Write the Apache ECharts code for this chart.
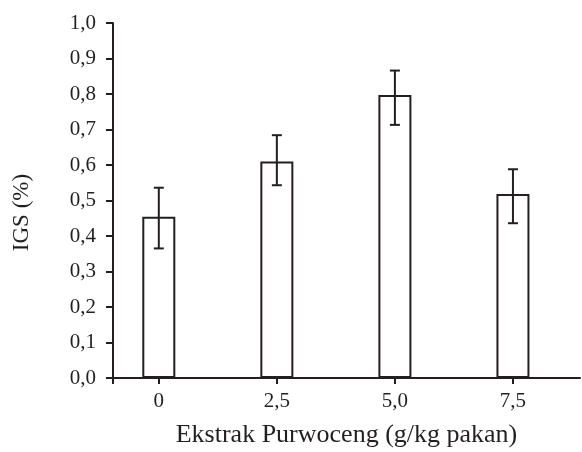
<!DOCTYPE html>
<html>
<head>
<meta charset="utf-8">
<script src="https://cdn.jsdelivr.net/npm/echarts@6/dist/echarts.min.js"></script>
<style>
  html, body { margin: 0; padding: 0; background: #fff; }
  #chart { width: 582px; height: 452px; }
</style>
</head>
<body>
<div id="chart"></div>
<script>
// dose of extract, g/kg feed
const doses = [0, 2.5, 5, 7.5];
const doseLabels = ['0', '2,5', '5,0', '7,5'];
// IGS mean and error bar ends (%)
const igsMean = [0.454, 0.610, 0.797, 0.518];
const igsLow = [0.365, 0.543, 0.713, 0.436];
const igsHigh = [0.536, 0.684, 0.866, 0.588];

const xMin = -0.97;
const xMax = 8.92;
const ink = '#231f20';
const font = 'Liberation Serif';

const chart = echarts.init(document.getElementById('chart'));

chart.setOption({
	backgroundColor: '#fff',
	animation: false,
	grid: { left: 113, right: 2, top: 23, bottom: 74, outerBoundsMode: 'none', containLabel: false },
	xAxis: {
		type: 'value',
		min: xMin,
		max: xMax,
		name: 'Ekstrak Purwoceng (g/kg pakan)',
		nameLocation: 'middle',
		nameGap: 44,
		nameTextStyle: { fontFamily: font, fontSize: 26, color: ink },
		splitLine: { show: false },
		axisLine: { onZero: false, lineStyle: { color: ink, width: 2 } },
		axisTick: {
			length: 6,
			lineStyle: { color: ink, width: 2 },
			customValues: [xMin].concat(doses)
		},
		axisLabel: {
			customValues: doses,
			margin: 13,
			fontFamily: font,
			fontSize: 21,
			color: ink,
			formatter: (v) => doseLabels[doses.indexOf(v)]
		}
	},
	yAxis: {
		type: 'value',
		min: 0,
		max: 1,
		interval: 0.1,
		name: 'IGS (%)',
		nameLocation: 'middle',
		nameGap: 80,
		nameTextStyle: { fontFamily: font, fontSize: 23, color: ink, padding: [0, 24, 0, 0] },
		splitLine: { show: false },
		axisLine: { show: true, onZero: false, lineStyle: { color: ink, width: 2 } },
		axisTick: { show: true, length: 7, lineStyle: { color: ink, width: 2 } },
		axisLabel: {
			margin: 17,
			fontFamily: font,
			fontSize: 21,
			color: ink,
			formatter: (v) => v.toFixed(1).replace('.', ',')
		}
	},
	series: [
		{
			type: 'bar',
			barWidth: 33,
			data: doses.map((d, i) => [d, igsMean[i]]),
			itemStyle: { color: '#fff', borderColor: ink, borderWidth: 2 }
		},
		{
			type: 'custom',
			data: doses.map((d, i) => [d, igsLow[i], igsHigh[i]]),
			renderItem: (params, api) => {
				const lo = api.coord([api.value(0), api.value(1)]);
				const hi = api.coord([api.value(0), api.value(2)]);
				const cap = 5;
				const style = { stroke: ink, lineWidth: 2 };
				return {
					type: 'group',
					children: [
						{ type: 'line', shape: { x1: lo[0], y1: lo[1], x2: hi[0], y2: hi[1] }, style },
						{ type: 'line', shape: { x1: hi[0] - cap, y1: hi[1], x2: hi[0] + cap, y2: hi[1] }, style },
						{ type: 'line', shape: { x1: lo[0] - cap, y1: lo[1], x2: lo[0] + cap, y2: lo[1] }, style }
					]
				};
			},
			z: 5
		}
	]
});
</script>
</body>
</html>
